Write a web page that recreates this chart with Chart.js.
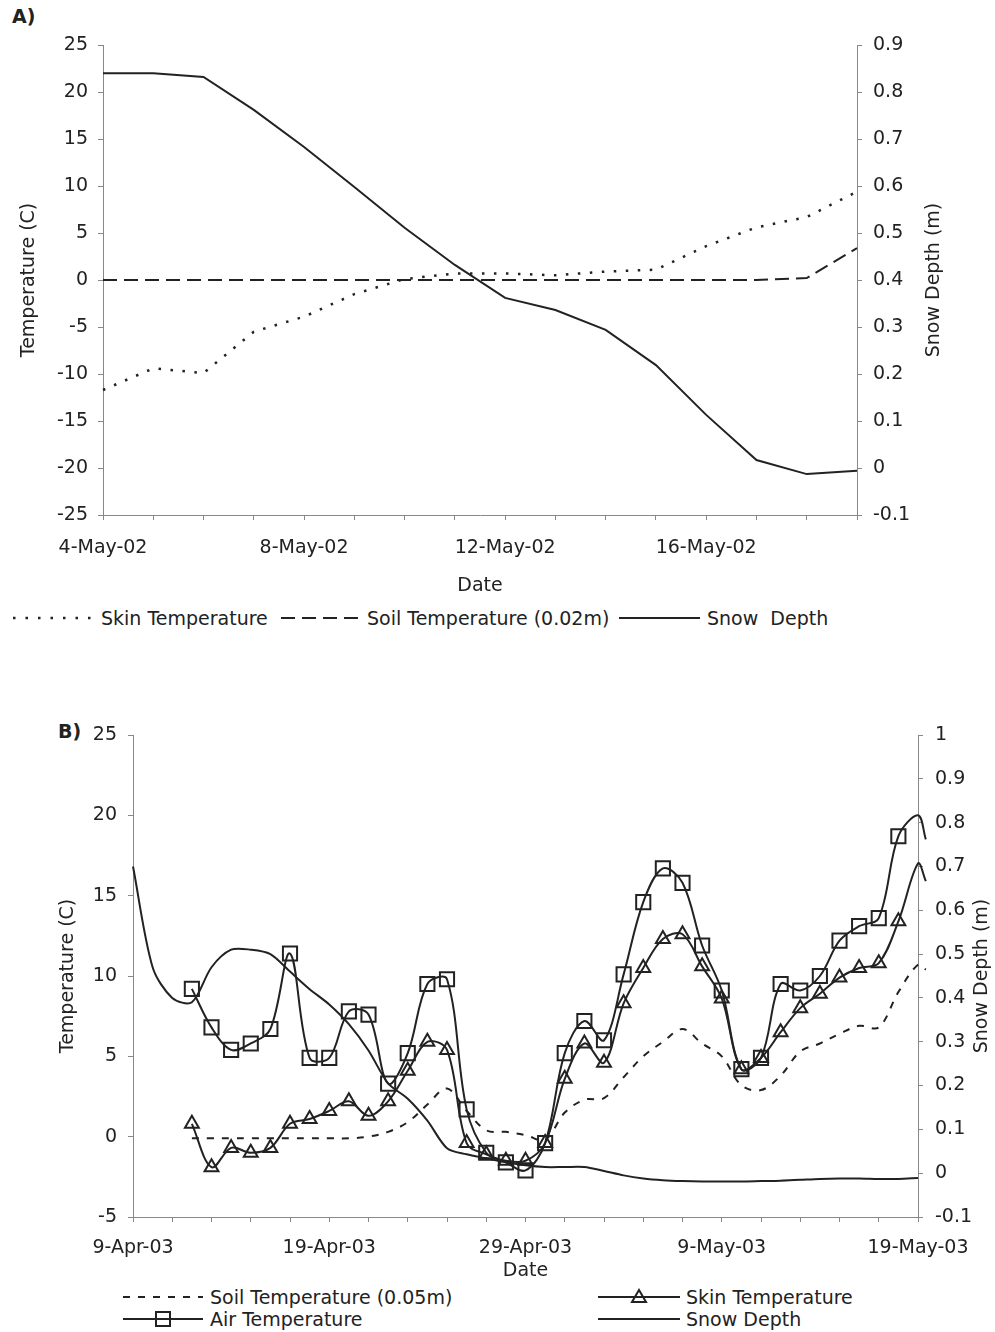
<!DOCTYPE html>
<html>
<head>
<meta charset="utf-8">
<script src="https://cdn.jsdelivr.net/npm/chart.js@4"></script>
<style>
  body { margin: 0; background: #fff; }
  #page { position: relative; width: 995px; height: 1332px; overflow: hidden;
          font-family: "DejaVu Sans", sans-serif; color: #222; }
  .box { position: absolute; }
  .lbl { position: absolute; font-size: 19px; line-height: 22px; white-space: pre; }
  .vlbl { position: absolute; width: 200px; height: 22px; font-size: 19px; line-height: 22px;
          text-align: center; transform: rotate(-90deg); white-space: pre; }
</style>
</head>
<body>
<div id="page">
  <div class="lbl" style="left:12px;top:5px;font-weight:bold">A)</div>
  <div class="box" style="left:0;top:0"><canvas id="chartA" width="995" height="600"></canvas></div>
  <div class="vlbl" style="left:832px;top:269px">Snow Depth (m)</div>

  <!-- legend A -->
  <svg class="box" style="left:13px;top:608px" width="80" height="20">
    <line x1="0" y1="10" x2="80" y2="10" stroke="#222" stroke-width="2.5" stroke-dasharray="2.5 10"/>
  </svg>
  <div class="lbl" style="left:101px;top:607px">Skin Temperature</div>
  <svg class="box" style="left:281px;top:608px" width="78" height="20">
    <line x1="0" y1="10" x2="78" y2="10" stroke="#222" stroke-width="2" stroke-dasharray="14 7"/>
  </svg>
  <div class="lbl" style="left:367px;top:607px">Soil Temperature (0.02m)</div>
  <svg class="box" style="left:619px;top:608px" width="81" height="20">
    <line x1="0" y1="10" x2="81" y2="10" stroke="#222" stroke-width="2"/>
  </svg>
  <div class="lbl" style="left:707px;top:607px">Snow  Depth</div>

  <div class="lbl" style="left:58px;top:720px;font-weight:bold">B)</div>
  <div class="box" style="left:0;top:680px"><canvas id="chartB" width="995" height="605"></canvas></div>
  <div class="vlbl" style="left:880px;top:965px">Snow Depth (m)</div>

  <!-- legend B -->
  <svg class="box" style="left:123px;top:1287px" width="80" height="20">
    <line x1="0" y1="10" x2="80" y2="10" stroke="#222" stroke-width="2" stroke-dasharray="7 8"/>
  </svg>
  <div class="lbl" style="left:210px;top:1286px">Soil Temperature (0.05m)</div>
  <svg class="box" style="left:598px;top:1285px" width="82" height="24">
    <line x1="0" y1="12" x2="82" y2="12" stroke="#222" stroke-width="2"/>
    <polygon points="41,5 48,17 34,17" fill="none" stroke="#222" stroke-width="2"/>
  </svg>
  <div class="lbl" style="left:686px;top:1286px">Skin Temperature</div>
  <svg class="box" style="left:123px;top:1307px" width="80" height="24">
    <line x1="0" y1="12" x2="80" y2="12" stroke="#222" stroke-width="2"/>
    <rect x="33" y="5" width="14" height="14" fill="none" stroke="#222" stroke-width="2"/>
  </svg>
  <div class="lbl" style="left:210px;top:1308px">Air Temperature</div>
  <svg class="box" style="left:598px;top:1309px" width="82" height="20">
    <line x1="0" y1="10" x2="82" y2="10" stroke="#222" stroke-width="2"/>
  </svg>
  <div class="lbl" style="left:686px;top:1308px">Snow Depth</div>
</div>

<script>
// common look
Chart.defaults.font.family = '"DejaVu Sans", sans-serif';
Chart.defaults.font.size = 19;
Chart.defaults.color = '#222';

const INK = '#222';
const AXIS = '#888';

// ---- data, chart A (daily, 4-May-02 .. 19-May-02)
const datesA = ['4-May-02', '5-May-02', '6-May-02', '7-May-02', '8-May-02', '9-May-02',
  '10-May-02', '11-May-02', '12-May-02', '13-May-02', '14-May-02', '15-May-02',
  '16-May-02', '17-May-02', '18-May-02', '19-May-02'];
const skinA = [-11.7, -9.4, -9.9, -5.5, -3.9, -1.5, 0.1, 0.7, 0.7, 0.5, 0.9, 1.1, 3.6, 5.6, 6.7, 9.4];
const soilA = [0, 0, 0, 0, 0, 0, 0, 0, 0, 0, 0, 0, 0, 0, 0.2, 3.4];
const snowA = [0.84, 0.84, 0.832, 0.762, 0.683, 0.598, 0.511, 0.432, 0.362, 0.336,
  0.294, 0.219, 0.113, 0.017, -0.013, -0.006];

// ---- data, chart B (day 0 = 9-Apr-03)
const snowDaysB = [0, 1, 2, 3, 4, 5, 6, 7, 8, 9, 10, 11, 12, 13, 14, 15, 16, 17, 18, 19, 20,
  21, 22, 23, 24, 25, 26, 27, 28, 29, 30, 31, 32, 33, 34, 35, 36, 37, 38, 39, 40];
const snowB = [0.70, 0.47, 0.40, 0.39, 0.47, 0.51, 0.51, 0.50, 0.46, 0.42, 0.385, 0.34, 0.28,
  0.205, 0.17, 0.12, 0.057, 0.043, 0.034, 0.025, 0.018, 0.014, 0.014, 0.014, 0.005, -0.005,
  -0.012, -0.016, -0.018, -0.019, -0.019, -0.019, -0.018, -0.017, -0.015, -0.013, -0.012,
  -0.012, -0.013, -0.013, -0.011];
const tempDaysB = [3, 4, 5, 6, 7, 8, 9, 10, 11, 12, 13, 14, 15, 16, 17, 18, 19, 20, 21, 22,
  23, 24, 25, 26, 27, 28, 29, 30, 31, 32, 33, 34, 35, 36, 37, 38, 39, 40, 40.4];
const airB = [9.2, 6.8, 5.4, 5.8, 6.7, 11.4, 4.9, 4.9, 7.8, 7.6, 3.3, 5.2, 9.5, 9.8, 1.7,
  -1.0, -1.6, -2.1, -0.4, 5.2, 7.2, 6.0, 10.1, 14.6, 16.7, 15.8, 11.9, 9.1, 4.2, 4.9, 9.5,
  9.1, 10.0, 12.2, 13.1, 13.6, 18.7, 20.0, 18.5];
const skinB = [0.8, -1.9, -0.7, -1.0, -0.7, 0.8, 1.1, 1.6, 2.2, 1.3, 2.2, 4.1, 5.9, 5.4,
  -0.4, -1.1, -1.5, -1.5, -0.4, 3.6, 5.8, 4.6, 8.3, 10.5, 12.3, 12.6, 10.6, 8.6, 4.2, 4.9,
  6.5, 8.0, 8.9, 9.9, 10.5, 10.8, 13.4, 17.0, 15.9];
const soilB = [-0.1, -0.1, -0.1, -0.1, -0.1, -0.1, -0.1, -0.1, -0.1, 0.0, 0.3, 0.9, 2.0, 3.0,
  1.6, 0.4, 0.3, 0.1, -0.2, 1.5, 2.3, 2.4, 3.7, 5.0, 5.9, 6.7, 5.8, 5.0, 3.2, 2.9, 3.8, 5.3,
  5.8, 6.4, 6.9, 6.8, 9.0, 10.7, 10.4];
const tickDaysB = [0, 10, 20, 30, 40];
const tickLabelsB = ['9-Apr-03', '19-Apr-03', '29-Apr-03', '9-May-03', '19-May-03'];
const lastMarkedDayB = 39;

/**
 * helpers
 */
const pairs = (xs, ys) => xs.map((x, i) => ({ x: x, y: ys[i] }));
const axisGrid = { drawOnChartArea: false, tickLength: 5, color: AXIS };
const axisBorder = { color: AXIS, width: 1 };
const oneDecimal = v => +Number(v).toFixed(1);
const markerSize = r => c => (c.raw && c.raw.x > lastMarkedDayB ? 0 : r);

/**
 * Chart A
 */
new Chart(document.getElementById('chartA'), {
  type: 'line',
  data: {
    labels: datesA,
    datasets: [
      { label: 'Skin Temperature', data: skinA, yAxisID: 'y',
        borderColor: INK, borderWidth: 2.5, borderDash: [2.5, 9.5], pointRadius: 0, tension: 0 },
      { label: 'Soil Temperature (0.02m)', data: soilA, yAxisID: 'y',
        borderColor: INK, borderWidth: 2, borderDash: [14, 7], pointRadius: 0, tension: 0 },
      { label: 'Snow  Depth', data: snowA, yAxisID: 'y2',
        borderColor: INK, borderWidth: 2, pointRadius: 0, tension: 0 }
    ]
  },
  options: {
    responsive: false,
    animation: false,
    layout: { padding: { top: 45, left: 0, right: 0, bottom: 0 } },
    plugins: { legend: { display: false }, tooltip: { enabled: false } },
    scales: {
      x: {
        type: 'category', offset: false,
        grid: axisGrid, border: axisBorder,
        ticks: { autoSkip: false, maxRotation: 0, padding: 17,
          callback: (v, i) => (i % 4 === 0 ? datesA[i] : '') },
        title: { display: true, text: 'Date', padding: { top: 0, bottom: 3 } },
        afterFit: s => { s.height = 85; }
      },
      y: {
        position: 'left', min: -25, max: 25,
        grid: axisGrid, border: axisBorder,
        ticks: { stepSize: 5, padding: 10 },
        title: { display: true, text: 'Temperature (C)', padding: { top: 18, bottom: 0 } },
        afterFit: s => { s.width = 103; }
      },
      y2: {
        position: 'right', min: -0.1, max: 0.9,
        grid: axisGrid, border: axisBorder,
        ticks: { stepSize: 0.1, padding: 11, callback: oneDecimal },
        afterFit: s => { s.width = 138; }
      }
    }
  }
});

/**
 * Chart B
 * x range is set after the data limits so the last (unmarked) readings
 * just past 19-May are still drawn, a little outside the plot
 */
new Chart(document.getElementById('chartB'), {
  type: 'line',
  data: {
    datasets: [
      { label: 'Air Temperature', data: pairs(tempDaysB, airB), yAxisID: 'y',
        borderColor: INK, borderWidth: 2, tension: 0.35, capBezierPoints: false, clip: false,
        pointStyle: 'rect', pointRadius: markerSize(10), pointBorderWidth: 2,
        pointBorderColor: INK, pointBackgroundColor: 'rgba(0,0,0,0)' },
      { label: 'Skin Temperature', data: pairs(tempDaysB, skinB), yAxisID: 'y',
        borderColor: INK, borderWidth: 2, tension: 0.35, capBezierPoints: false, clip: false,
        pointStyle: 'triangle', pointRadius: markerSize(8), pointBorderWidth: 2,
        pointBorderColor: INK, pointBackgroundColor: 'rgba(0,0,0,0)' },
      { label: 'Soil Temperature (0.05m)', data: pairs(tempDaysB, soilB), yAxisID: 'y',
        borderColor: INK, borderWidth: 2, borderDash: [7, 8], tension: 0.35,
        capBezierPoints: false, clip: false, pointRadius: 0 },
      { label: 'Snow Depth', data: pairs(snowDaysB, snowB), yAxisID: 'y2',
        borderColor: INK, borderWidth: 2, tension: 0.3, pointRadius: 0 }
    ]
  },
  options: {
    responsive: false,
    animation: false,
    layout: { padding: { top: 55, left: 0, right: 0, bottom: 0 } },
    plugins: { legend: { display: false }, tooltip: { enabled: false } },
    scales: {
      x: {
        type: 'linear',
        afterDataLimits: s => { s.min = 0; s.max = 40; },
        grid: axisGrid, border: axisBorder,
        ticks: { stepSize: 2, autoSkip: false, maxRotation: 0, padding: 15,
          callback: v => {
            const i = tickDaysB.indexOf(v);
            return i < 0 ? '' : tickLabelsB[i];
          } },
        title: { display: true, text: 'Date', padding: { top: 0, bottom: 3 } },
        afterFit: s => { s.height = 68; }
      },
      y: {
        position: 'left', min: -5, max: 25,
        grid: axisGrid, border: axisBorder,
        ticks: { stepSize: 5, padding: 11 },
        title: { display: true, text: 'Temperature (C)', padding: { top: 57, bottom: 0 } },
        afterFit: s => { s.width = 133; }
      },
      y2: {
        position: 'right', min: -0.1, max: 1,
        grid: axisGrid, border: axisBorder,
        ticks: { stepSize: 0.1, padding: 12, callback: oneDecimal },
        afterFit: s => { s.width = 77; }
      }
    }
  }
});
</script>
</body>
</html>
